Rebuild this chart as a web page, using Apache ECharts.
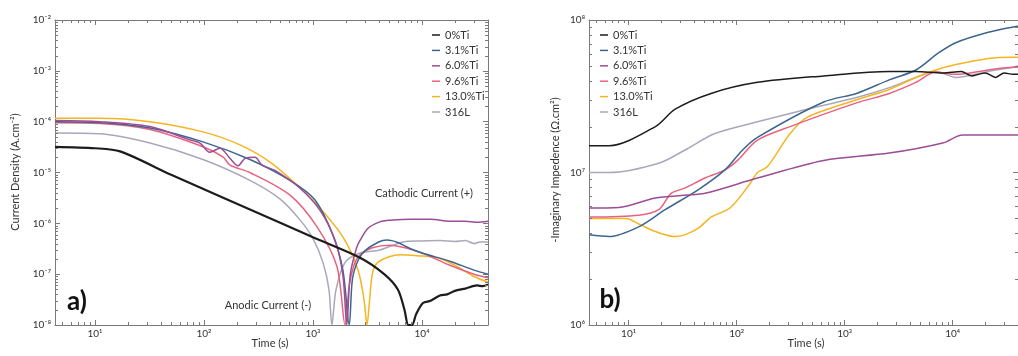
<!DOCTYPE html>
<html><head><meta charset="utf-8">
<script src="https://cdn.jsdelivr.net/npm/echarts@6/dist/echarts.min.js"></script>
<style>html,body{margin:0;padding:0;background:#fff}#c{width:1018px;height:356px}</style>
</head><body><div id="c"></div>
<script>
// ---------- data ----------
const seriesNames = ['0%Ti', '3.1%Ti', '6.0%Ti', '9.6%Ti', '13.0%Ti', '316L'];
const seriesColors = ['#1c1c1c', '#3d6590', '#9b4d96', '#e8627f', '#f5b521', '#a8a8bc'];
const xTickLabels = {1: '10¹', 2: '10²', 3: '10³', 4: '10⁴'};
const yTickLabelsA = {'-8': '10⁻⁸', '-7': '10⁻⁷', '-6': '10⁻⁶', '-5': '10⁻⁵', '-4': '10⁻⁴', '-3': '10⁻³', '-2': '10⁻²'};
const yTickLabelsB = {6: '10⁶', 7: '10⁷', 8: '10⁸'};

// panel a) current density (A.cm-2) vs time (s)
const cd_0Ti = [[4.3,3.2e-5],[10,3.0e-5],[17,2.6e-5],[50,9e-6],[150,3.2e-6],[500,1.03e-6],[1000,5.3e-7],[2700,2.1e-7],[4500,1e-7],[6000,5e-8],[6900,2e-8],[7500,1e-8],[8100,1e-8],[8800,1.6e-8],[10200,2.7e-8],[12000,3.0e-8],[14600,3.8e-8],[17000,4.0e-8],[20000,4.7e-8],[25000,5.2e-8],[32000,6e-8],[36000,5.8e-8],[40300,6.3e-8]];
const cd_31Ti = [[4.3,1.0e-4],[11,9.6e-5],[32,7.5e-5],[98,4e-5],[264,1.8e-5],[615,7e-6],[1040,2.9e-6],[1520,5.9e-7],[1880,1.2e-7],[2150,1e-8],[2300,8e-8],[2600,1.9e-7],[3000,2.9e-7],[4000,4.3e-7],[4770,4.7e-7],[6000,4.2e-7],[7760,3.2e-7],[10000,2.6e-7],[18000,1.8e-7],[30000,1.2e-7],[40300,1e-7]];
const cd_60Ti = [[4.3,1.05e-4],[11,1.0e-4],[32,8e-5],[74,4.4e-5],[92,3.8e-5],[113,2.5e-5],[140,3e-5],[173,1.9e-5],[205,1.35e-5],[238,1.9e-5],[294,2e-5],[340,1.4e-5],[448,1.1e-5],[760,4.9e-6],[1160,1.8e-6],[1590,4.7e-7],[1880,9.6e-8],[2040,1e-8],[2200,1e-7],[2500,3.2e-7],[2700,4.6e-7],[3200,8e-7],[4100,1.07e-6],[5100,1.15e-6],[8000,1.2e-6],[12000,1.2e-6],[18000,1.1e-6],[25000,1.1e-6],[32000,1.05e-6],[40300,1.1e-6]];
const cd_96Ti = [[4.3,9.5e-5],[11,9.2e-5],[32,7e-5],[98,3.2e-5],[150,2e-5],[173,1.4e-5],[264,1e-5],[615,3.6e-6],[1090,8.5e-7],[1660,1.4e-7],[1970,1e-8],[2150,6e-8],[2400,1.6e-7],[2700,2.4e-7],[3500,3.3e-7],[5080,3.7e-7],[7000,3.3e-7],[10000,2.6e-7],[18000,1.5e-7],[30000,1e-7],[40300,8.5e-8]];
const cd_130Ti = [[4.3,1.17e-4],[11,1.17e-4],[32,1.0e-4],[98,6.3e-5],[214,3.5e-5],[404,1.6e-5],[760,5e-6],[1160,2e-6],[1880,5.4e-7],[2590,1.2e-7],[2940,3.1e-8],[3130,1e-8],[3300,3e-8],[3500,1e-7],[3860,1.65e-7],[5000,2.2e-7],[6280,2.4e-7],[9000,2.3e-7],[13700,2.1e-7],[20000,1.5e-7],[30000,9e-8],[40300,7e-8]];
const cd_316L = [[4.3,6e-5],[11,5.8e-5],[32,3.8e-5],[98,1.8e-5],[264,7e-6],[500,3e-6],[760,1.17e-6],[1000,5e-7],[1240,1.65e-7],[1400,5e-8],[1490,1e-8],[1625,4.9e-8],[1970,1.7e-7],[2700,2.6e-7],[4120,3e-7],[6700,4.3e-7],[10000,4.5e-7],[14600,4.6e-7],[20000,4.4e-7],[25000,4.6e-7],[30000,4e-7],[34000,4.3e-7],[40300,4.3e-7]];

// panel b) -imaginary impedance (Ohm.cm2) vs time (s)
const im_0Ti = [[4.3,1.5e7],[6.6,1.5e7],[17.7,2e7],[27,2.6e7],[58,3.3e7],[156,3.9e7],[641,4.3e7],[2590,4.6e7],[4570,4.6e7],[8090,4.5e7],[12000,4.6e7],[15000,4.3e7],[20000,4.5e7],[25000,4.2e7],[30000,4.5e7],[36300,4.4e7],[40300,4.4e7]];
const im_31Ti = [[4.3,3.9e6],[6.6,3.8e6],[12.4,4.4e6],[21.8,5.7e6],[44,7.7e6],[78,1.04e7],[113,1.4e7],[156,1.7e7],[641,2.9e7],[1290,3.3e7],[2590,4.05e7],[4570,4.7e7],[7450,6.1e7],[10700,7.1e7],[21400,8.3e7],[36300,9e7],[40300,9.1e7]];
const im_60Ti = [[4.3,5.85e6],[8.1,5.9e6],[17.7,6.8e6],[33,7.1e6],[51,7.3e6],[156,9.2e6],[641,1.2e7],[2590,1.34e7],[8090,1.56e7],[12400,1.76e7],[21400,1.76e7],[36300,1.76e7],[40300,1.76e7]];
const im_96Ti = [[4.3,5.1e6],[12.4,5.25e6],[19,5.7e6],[24.8,7.3e6],[33,7.9e6],[51,9.2e6],[78,1.04e7],[102,1.2e7],[156,1.63e7],[313,2e7],[1290,2.86e7],[2590,3.3e7],[4570,3.9e7],[6980,4.56e7],[10700,4.4e7],[21400,4.7e7],[36300,4.9e7],[40300,4.9e7]];
const im_130Ti = [[4.3,5e6],[9.4,5e6],[13.2,4.5e6],[17.7,4.1e6],[27,3.8e6],[33,3.9e6],[44,4.3e6],[58,5.1e6],[88,5.9e6],[134,8.5e6],[156,1e7],[192,1.09e7],[313,1.8e7],[448,2.3e7],[1290,3e7],[2590,3.5e7],[4570,4.2e7],[6980,4.7e7],[10700,5.1e7],[21400,5.6e7],[36300,5.7e7],[40300,5.7e7]];
const im_316L = [[4.3,1e7],[6.6,1e7],[19,1.15e7],[33,1.4e7],[63,1.8e7],[156,2.15e7],[448,2.6e7],[1290,3.1e7],[2590,3.6e7],[4570,4.2e7],[6980,4.6e7],[10700,4.2e7],[21400,4.6e7],[36300,4.9e7],[40300,5e7]];

const cdData = [cd_0Ti, cd_31Ti, cd_60Ti, cd_96Ti, cd_130Ti, cd_316L];
const imData = [im_0Ti, im_31Ti, im_60Ti, im_96Ti, im_130Ti, im_316L];

// ---------- chart ----------
const FONT = 'Lato';
const xMin = 4.3, xMax = 40300;
const yAmin = 1e-8, yAmax = 1e-2, yBmin = 1e6, yBmax = 1e8;
const axisColor = '#7a7a7a';

function minorTicks(lo, hi) {
  const out = [];
  for (let e = Math.floor(Math.log10(lo)); e <= Math.ceil(Math.log10(hi)); e++)
    for (let k = 2; k <= 9; k++) { const v = k * Math.pow(10, e); if (v > lo * 1.001 && v < hi * 0.999) out.push(v); }
  return out;
}
function lbl(map) {
  return function (v) { const e = Math.round(Math.log10(v)); if (Math.abs(Math.log10(v) - e) > 1e-6) return ''; return map[e] || ''; };
}
function xAx(grid, pos, show) {
  return { type: 'log', logBase: 10, gridIndex: grid, position: pos, min: xMin, max: xMax,
    axisLine: { show: true, lineStyle: { color: axisColor, width: 1 } },
    axisTick: { show: true, inside: true, length: 5, lineStyle: { color: axisColor } },
    axisLabel: { show: show, formatter: lbl(xTickLabels), fontSize: 10, color: '#333', margin: 4, fontFamily: FONT, showMinLabel: false, showMaxLabel: false },
    splitLine: { show: false } };
}
function yAx(grid, pos, show, lo, hi, map) {
  return { type: 'log', logBase: 10, gridIndex: grid, position: pos, min: lo, max: hi,
    axisLine: { show: true, lineStyle: { color: axisColor, width: 1 } },
    axisTick: { show: true, inside: true, length: 5, lineStyle: { color: axisColor } },
    axisLabel: { show: show, formatter: lbl(map), fontSize: 10, color: '#333', margin: 4, fontFamily: FONT },
    splitLine: { show: false } };
}
// minor log ticks on all four sides, positioned through the axes' own scale
function tickSeries(xi, yi, vals, dir, other) {
  return { type: 'custom', xAxisIndex: xi, yAxisIndex: yi, silent: true, z: 10, clip: false,
    data: vals.map(v => dir === 'x' ? [v, other] : [other, v]),
    renderItem: function (params, api) {
      const cs = params.coordSys;
      const p = api.coord([api.value(0), api.value(1)]);
      const st = { stroke: axisColor, lineWidth: 1, fill: null };
      if (dir === 'x') {
        const x = Math.round(p[0]) + 0.5;
        return { type: 'group', children: [
          { type: 'line', shape: { x1: x, y1: cs.y + cs.height, x2: x, y2: cs.y + cs.height - 3 }, style: st },
          { type: 'line', shape: { x1: x, y1: cs.y, x2: x, y2: cs.y + 3 }, style: st } ] };
      }
      const y = Math.round(p[1]) + 0.5;
      return { type: 'group', children: [
        { type: 'line', shape: { x1: cs.x, y1: y, x2: cs.x + 3, y2: y }, style: st },
        { type: 'line', shape: { x1: cs.x + cs.width, y1: y, x2: cs.x + cs.width - 3, y2: y }, style: st } ] };
    } };
}

const series = [];
const drawOrder = [5, 4, 3, 1, 2, 0];
drawOrder.forEach(i => {
  series.push({ name: seriesNames[i], type: 'line', xAxisIndex: 0, yAxisIndex: 0, data: cdData[i], showSymbol: false,
    smooth: 0.3, color: seriesColors[i], lineStyle: { width: i === 0 ? 2.2 : 1.5, color: seriesColors[i] }, z: 3 });
  series.push({ name: seriesNames[i], type: 'line', xAxisIndex: 2, yAxisIndex: 2, data: imData[i], showSymbol: false,
    smooth: 0.3, color: seriesColors[i], lineStyle: { width: 1.5, color: seriesColors[i] }, z: 3 });
});
series.push(tickSeries(0, 0, minorTicks(xMin, xMax), 'x', 1e-5));
series.push(tickSeries(0, 0, minorTicks(yAmin, yAmax), 'y', 100));
series.push(tickSeries(2, 2, minorTicks(xMin, xMax), 'x', 1e7));
series.push(tickSeries(2, 2, minorTicks(yBmin, yBmax), 'y', 100));

const legendBase = { orient: 'vertical', data: seriesNames, icon: 'rect', itemWidth: 8, itemHeight: 1.5, itemGap: 3.4,
  textStyle: { fontSize: 11, color: '#333', fontFamily: FONT, lineHeight: 12 }, selectedMode: false };

const txt = (t, x, y, o) => Object.assign({ type: 'text', x: x, y: y, silent: true,
  style: Object.assign({ text: t, fontSize: 11, fontFamily: FONT, fill: '#333', align: 'center', verticalAlign: 'middle' }, o || {}) });

const option = {
  animation: false,
  backgroundColor: '#fff',
  grid: [ { left: 55, top: 20, width: 433, height: 305 }, { left: 589, top: 20, width: 433, height: 305 } ],
  xAxis: [ xAx(0, 'bottom', true), xAx(0, 'top', false), xAx(1, 'bottom', true), xAx(1, 'top', false) ],
  yAxis: [ yAx(0, 'left', true, yAmin, yAmax, yTickLabelsA), yAx(0, 'right', false, yAmin, yAmax, yTickLabelsA),
           yAx(1, 'left', true, yBmin, yBmax, yTickLabelsB), yAx(1, 'right', false, yBmin, yBmax, yTickLabelsB) ],
  legend: [ Object.assign({ left: 427, top: 24 }, legendBase), Object.assign({ left: 595, top: 24 }, legendBase) ],
  series: series,
  graphic: [
    Object.assign(txt('Current Density (A.cm⁻²)', 15, 172), { rotation: Math.PI / 2 }),
    Object.assign(txt('-Imaginary Impedence (Ω.cm²)', 555, 170), { rotation: Math.PI / 2 }),
    txt('Time (s)', 270, 343),
    txt('Time (s)', 806, 343),
    txt('Cathodic Current (+)', 424, 193),
    txt('Anodic Current (-)', 268, 305),
    txt('a)', 77, 302, { fontSize: 26, fontWeight: 'bold', fill: '#111' }),
    txt('b)', 610, 300, { fontSize: 26, fontWeight: 'bold', fill: '#111' })
  ]
};
const chart = echarts.init(document.getElementById('c'), null, { renderer: 'canvas' });
chart.setOption(option);
</script></body></html>
